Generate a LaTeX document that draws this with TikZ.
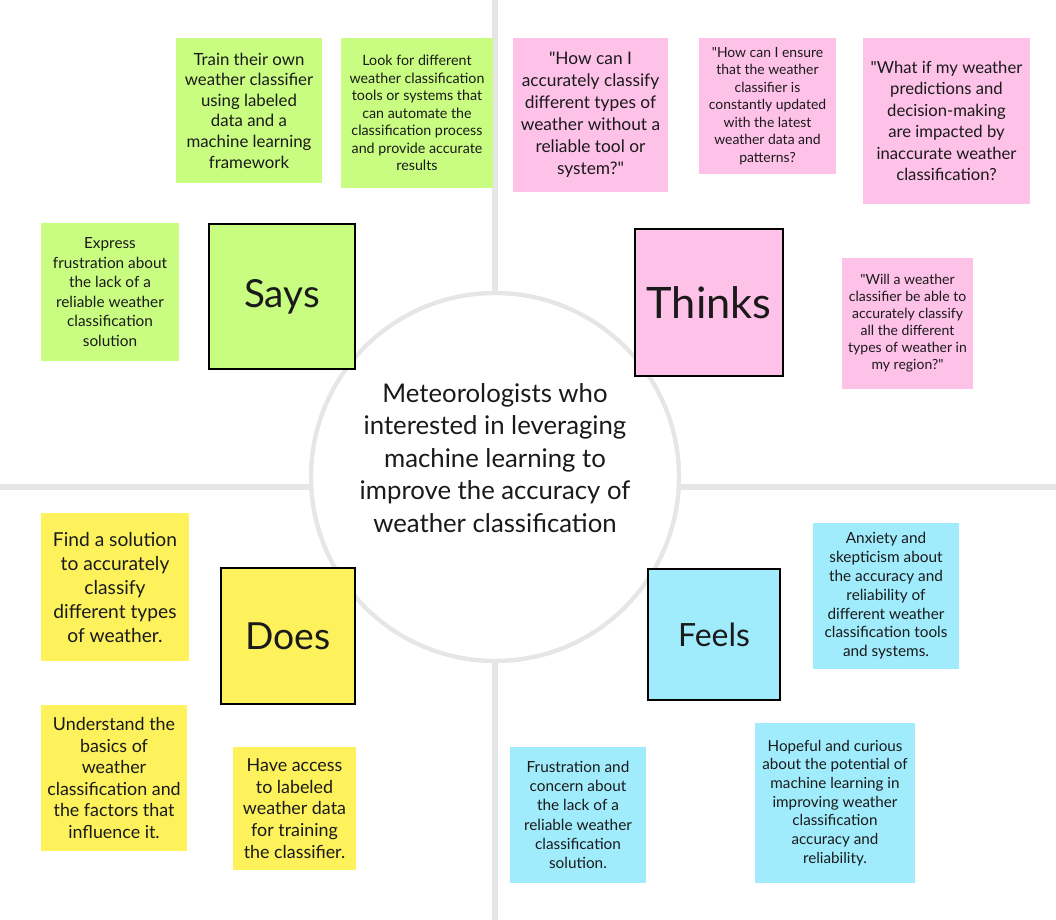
\documentclass[tikz,border=0pt]{standalone}
\usepackage{fontspec}
\setmainfont{Lato}[Ligatures=TeXOff]
\definecolor{ink}{HTML}{1A1A1A}
\definecolor{sgreen}{HTML}{C9FD82}
\definecolor{spink}{HTML}{FEC1E8}
\definecolor{syellow}{HTML}{FDF25C}
\definecolor{scyan}{HTML}{A0ECFC}
\definecolor{gline}{HTML}{E6E6E6}
\newcommand\myfs[2]{\fontsize{#1}{#2}\selectfont}
% \sticky{name}{style}{x1}{y1}{x2}{y2}{font}{text}
\newcommand\sticky[8]{\node[#2, minimum width={(#5-#3)*0.75pt}, minimum height={(#6-#4)*0.75pt}, font=#7] (#1) at ({(#3+#5)/2},{(#4+#6)/2}) {#8};}
\tikzset{
  note/.style={inner sep=0pt, outer sep=0pt, align=center, text=ink, fill=#1},
  bigbox/.style={draw=black, line width=1.9pt, inner sep=0pt, outer sep=0pt, text=ink, fill=#1},
  spoke/.style={draw=gline, line width=3.8pt},
}
\begin{document}
\begin{tikzpicture}[x=0.75pt,y=-0.75pt]
\useasboundingbox (0,0) rectangle (1056,920);
\fill[white] (0,0) rectangle (1056,920);

% center circle
\node[circle, draw=gline, line width=3pt, fill=white, minimum size=276pt, inner sep=0pt] (c) at (495,477) {};
\coordinate (ctop) at (495,0);
\coordinate (cbot) at (495,920);
\coordinate (cleft) at (0,487);
\coordinate (cright) at (1056,487);
\draw[spoke] (ctop) -- (c.north);
\draw[spoke] (c.south) -- (cbot);
\draw[spoke] (cleft) -- (cleft -| c.west);
\draw[spoke] (cright -| c.east) -- (cright);
\node[circle, draw=gline, line width=3pt, minimum size=276pt, inner sep=0pt] (c2) at (c) {};
\node[note=white, fill opacity=0, text opacity=1, font=\myfs{19.3}{24.4}] (ctext) at (495,458) {Meteorologists who\\interested in leveraging\\machine learning to\\improve the accuracy of\\weather classification};

% Says
\sticky{s1}{note=sgreen}{176}{38}{322}{183}{\myfs{12.6}{15.45}}{Train their own\\weather classifier\\using labeled\\data and a\\machine learning\\framework}
\sticky{s2}{note=sgreen}{341}{38}{493}{188}{\myfs{10.7}{13.1}}{Look for different\\weather classification\\tools or systems that\\can automate the\\classification process\\and provide accurate\\results}
\sticky{s3}{note=sgreen}{41}{223}{179}{361}{\myfs{11.5}{14.6}}{Express\\frustration about\\the lack of a\\reliable weather\\classification\\solution}
\sticky{says}{bigbox=sgreen}{209}{224}{355}{369}{\myfs{29}{30}}{Says}

% Thinks
\sticky{t1}{note=spink}{513}{38}{668}{192}{\myfs{13}{16.5}}{"How can I\\accurately classify\\different types of\\weather without a\\reliable tool or\\system?"}
\sticky{t2}{note=spink}{699}{38}{836}{174}{\myfs{10.45}{13.1}}{"How can I ensure\\that the weather\\classifier is\\constantly updated\\with the latest\\weather data and\\patterns?}
\sticky{t3}{note=spink}{863}{38}{1030}{204}{\myfs{12.5}{16.1}}{"What if my weather\\predictions and\\decision-making\\are impacted by\\inaccurate weather\\classification?}
\sticky{thinks}{bigbox=spink}{635}{229}{783}{376}{\myfs{32.5}{34}}{Thinks}
\sticky{t4}{note=spink}{842}{258}{973}{389}{\myfs{10.5}{12.75}}{"Will a weather\\classifier be able to\\accurately classify\\all the different\\types of weather in\\my region?"}

% Does
\sticky{d1}{note=syellow}{41}{513}{189}{661}{\myfs{14.4}{18}}{Find a solution\\to accurately\\classify\\different types\\of weather.}
\sticky{does}{bigbox=syellow}{221}{568}{355}{704}{\myfs{28}{30}}{Does}
\sticky{d2}{note=syellow}{41}{705}{187}{851}{\myfs{13.4}{16.1}}{Understand the\\basics of\\weather\\classification and\\the factors that\\influence it.}
\sticky{d3}{note=syellow}{233}{747}{356}{870}{\myfs{13.4}{16.3}}{Have access\\to labeled\\weather data\\for training\\the classifier.}

% Feels
\sticky{feels}{bigbox=scyan}{648}{569}{780}{700}{\myfs{24}{26}}{Feels}
\sticky{f1}{note=scyan}{813}{523}{959}{669}{\myfs{11.5}{14.1}}{Anxiety and\\skepticism about\\the accuracy and\\reliability of\\different weather\\classification tools\\and systems.}
\sticky{f2}{note=scyan}{510}{747}{646}{883}{\myfs{11.5}{14.4}}{Frustration and\\concern about\\the lack of a\\reliable weather\\classification\\solution.}
\sticky{f3}{note=scyan}{755}{723}{915}{883}{\myfs{11.4}{14}}{Hopeful and curious\\about the potential of\\machine learning in\\improving weather\\classification\\accuracy and\\reliability.}
\end{tikzpicture}
\end{document}
